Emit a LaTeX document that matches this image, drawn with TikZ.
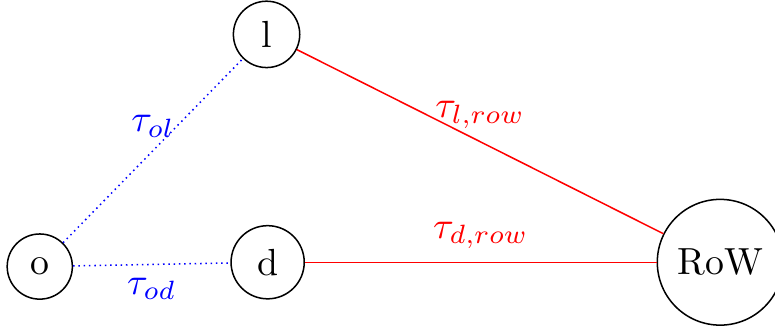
\documentclass[tikz,border=0pt]{standalone}

\begin{document}
\begin{tikzpicture}[region/.style={circle, draw, inner sep=3.7pt}, intra/.style={blue, densely dotted}, torow/.style={red}]
\useasboundingbox (0,0) rectangle (7.21,3.1);
\node[region] (o) at (0.37,0.62) {o}; \node[region] (l) at (2.48,2.78) {l};
\node[region] (d) at (2.49,0.66) {d}; \node[region] (row) at (6.70,0.66) {RoW};
\draw[intra] (o)--(l) node[midway,above] {$\tau_{ol}$};
\draw[intra] (o)--(d) node[midway,below] {$\tau_{od}$};
\draw[torow] (l)--(row) node[midway,above] {$\tau_{l,row}$};
\draw[torow] (d)--(row) node[midway,above] {$\tau_{d,row}$};
\end{tikzpicture}
\end{document}
